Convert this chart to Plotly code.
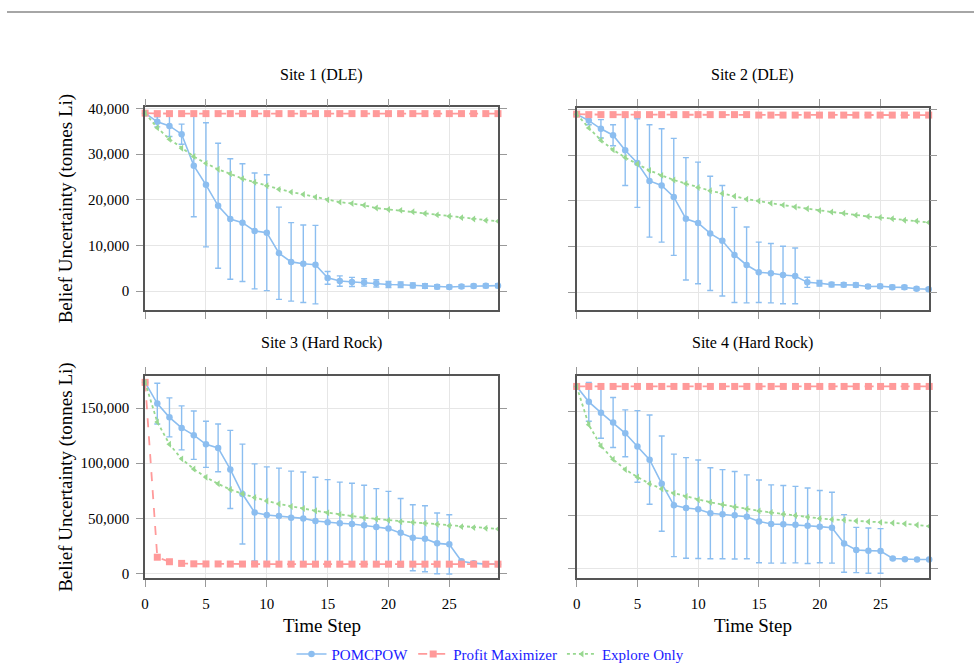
import plotly.graph_objects as go

W, H = 977, 671
t = list(range(30))

# ---------------- data ----------------
site_titles = ["Site 1 (DLE)", "Site 2 (DLE)", "Site 3 (Hard Rock)", "Site 4 (Hard Rock)"]

pomcpow_1 = [39000, 37100, 36200, 34400, 27500, 23300, 18700, 15800, 15000, 13200,
             12800, 8300, 6400, 6000, 5800, 2900, 2200, 2000, 1900, 1700,
             1450, 1400, 1250, 1100, 950, 900, 1000, 1100, 1150, 1200]
pomcpow_1_err = [0, 1100, 2300, 2200, 11200, 13600, 13700, 13200, 12900, 12700,
                 12700, 10100, 8600, 8500, 8600, 1400, 1150, 1000, 800, 800,
                 650, 600, 550, 500, 450, 400, 400, 400, 400, 400]
profit_1 = [39000] + [38900] * 29
explore_1 = [39000, 35800, 33300, 31300, 29500, 28000, 26700, 25700, 24650, 23850,
             23100, 22300, 21700, 21200, 20600, 20000, 19500, 19200, 18800, 18200,
             17900, 17700, 17400, 17000, 16700, 16400, 16100, 15800, 15500, 15300]

pomcpow_2 = [39000, 37600, 35800, 34400, 31100, 28300, 24400, 23400, 20900, 16100,
             15200, 12900, 11300, 8200, 6000, 4400, 4200, 3800, 3600, 2200,
             2000, 1700, 1650, 1600, 1300, 1350, 1150, 1100, 800, 700]
pomcpow_2_err = [0, 900, 2000, 2300, 7700, 9700, 12300, 12400, 12800, 13400,
                 13300, 12500, 12100, 10400, 8300, 6600, 6500, 6300, 6100, 1100,
                 600, 500, 450, 450, 400, 400, 400, 400, 350, 350]
profit_2 = [39000] + [38900] * 14 + [38800] * 15
explore_2 = [39000, 36000, 33300, 31200, 29500, 28100, 26700, 25600, 24600, 23800,
             22950, 22250, 21650, 21050, 20400, 20000, 19500, 19100, 18700, 18300,
             17900, 17600, 17300, 16900, 16600, 16400, 16100, 15800, 15600, 15300]

pomcpow_3 = [173500, 154200, 141700, 132100, 125500, 117200, 113900, 94400, 72000, 55300,
             52900, 52000, 50500, 49900, 47500, 46300, 45500, 44800, 43700, 42100,
             40600, 36800, 32300, 31400, 27200, 26300, 11000, 9200, 8300, 8300]
pomcpow_3_err = [0, 18500, 17700, 20000, 22000, 21000, 21700, 35500, 45400, 44100,
                 43800, 43600, 42300, 42200, 39800, 38800, 37300, 37000, 36300, 34800,
                 33800, 31200, 30000, 30000, 27600, 26900, 1000, 800, 600, 600]
profit_3 = [173500, 14600, 10500, 9000, 8600, 8500, 8500, 8400, 8400, 8400,
            8400, 8300, 8300, 8300, 8300, 8300, 8300, 8300, 8300, 8300,
            8300, 8300, 8300, 8300, 8300, 8300, 8300, 8300, 8300, 8300]
explore_3 = [173500, 137500, 117200, 104000, 94700, 87200, 81300, 76200, 72300, 68800,
             65700, 63000, 60700, 58900, 56800, 55000, 53500, 52000, 50500, 49300,
             48100, 46900, 46300, 45500, 44600, 43300, 42400, 41500, 41000, 40300]

pomcpow_4 = [173500, 158800, 148500, 139100, 128800, 116300, 103700, 80800, 60100, 57600,
             56400, 52600, 51700, 50700, 49200, 44800, 42300, 42000, 41700, 40700,
             39800, 38800, 23800, 17500, 16900, 16600, 9400, 8700, 8500, 8500]
pomcpow_4_err = [0, 18500, 24400, 23800, 22400, 34100, 42600, 45400, 48900, 48000,
                 47000, 43400, 42500, 41700, 40000, 39500, 37300, 37000, 36500, 36000,
                 34500, 33800, 27500, 21600, 21600, 21300, 1000, 800, 600, 600]
profit_4 = [173500] * 30
explore_4 = [173500, 136900, 116800, 104000, 94300, 87100, 80800, 75800, 71700, 68600,
             65500, 63000, 60800, 58600, 56700, 54800, 53300, 51700, 50500, 48900,
             47600, 46700, 46100, 45100, 44500, 43900, 43200, 42600, 41400, 40100]

pomcpow = [pomcpow_1, pomcpow_2, pomcpow_3, pomcpow_4]
pomcpow_err = [pomcpow_1_err, pomcpow_2_err, pomcpow_3_err, pomcpow_4_err]
profit = [profit_1, profit_2, profit_3, profit_4]
explore = [explore_1, explore_2, explore_3, explore_4]

y_ranges = [[-4110, 40280], [-3890, 40370], [-4480, 179300], [-9400, 183500]]
y_dticks = [10000, 10000, 50000, 50000]
x_range = [0, 29]

# ---------------- styling ----------------
FONT = "Liberation Serif, Times New Roman, serif"
BLUE = "#8cbef0"
PINK = "#ff9a9a"
GREEN = "#98d890"

# plot frames in pixels: (x0, x1, ytop, ybottom)
frames = [(141.7, 496.0, 102.7, 308.0),
          (575.0, 928.5, 103.3, 308.3),
          (141.7, 496.0, 375.0, 580.0),
          (575.0, 929.0, 375.0, 580.0)]


def px(x):
    return x / W


def py(y):
    return 1 - y / H


fig = go.Figure()

for i in range(4):
    xa = "x" if i == 0 else f"x{i+1}"
    ya = "y" if i == 0 else f"y{i+1}"
    show = i == 0
    fig.add_trace(go.Scatter(
        x=t, y=pomcpow[i], xaxis=xa, yaxis=ya, name="POMCPOW", legendgroup="p",
        showlegend=show, mode="lines+markers", cliponaxis=False,
        line=dict(color=BLUE, width=1.6),
        marker=dict(color=BLUE, size=6.5, symbol="circle"),
        error_y=dict(type="data", array=pomcpow_err[i], visible=True,
                     color=BLUE, thickness=1.4, width=3),
    ))
    fig.add_trace(go.Scatter(
        x=t, y=profit[i], xaxis=xa, yaxis=ya, name="Profit Maximizer", legendgroup="m",
        showlegend=show, mode="lines+markers", cliponaxis=False,
        line=dict(color=PINK, width=1.8, dash="dash"),
        marker=dict(color=PINK, size=7, symbol="square"),
    ))
    fig.add_trace(go.Scatter(
        x=t, y=explore[i], xaxis=xa, yaxis=ya, name="Explore Only", legendgroup="e",
        showlegend=show, mode="lines+markers", cliponaxis=False,
        line=dict(color=GREEN, width=1.8, dash="dot"),
        marker=dict(color=GREEN, size=6, symbol="triangle-left"),
    ))

layout = {}
for i in range(4):
    x0, x1, yt, yb = frames[i]
    xk = "xaxis" if i == 0 else f"xaxis{i+1}"
    yk = "yaxis" if i == 0 else f"yaxis{i+1}"
    ya = "y" if i == 0 else f"y{i+1}"
    xa = "x" if i == 0 else f"x{i+1}"
    bottom_row = i >= 2
    left_col = i % 2 == 0
    common = dict(showline=True, linecolor="#555555", linewidth=1.5, mirror="ticks",
                  ticks="outside", ticklen=7, tickwidth=1.2, tickcolor="#999999",
                  showgrid=True, gridcolor="#e6e6e6", gridwidth=1, zeroline=False,
                  tickfont=dict(family=FONT, size=15, color="#000000"),
                  ticklabelstandoff=4)
    layout[xk] = dict(common, domain=[px(x0), px(x1)], range=x_range, anchor=ya,
                      tickmode="linear", tick0=0, dtick=5, showticklabels=bottom_row)
    layout[yk] = dict(common, domain=[py(yb), py(yt)], range=y_ranges[i], anchor=xa,
                      tickmode="linear", tick0=0, dtick=y_dticks[i], tickformat=",d",
                      showticklabels=left_col)

annotations = []
title_y = [70, 70, 342, 342]
for i in range(4):
    x0, x1, yt, yb = frames[i]
    annotations.append(dict(text=site_titles[i], x=px((x0 + x1) / 2), y=py(title_y[i]),
                            xref="paper", yref="paper", showarrow=False,
                            xanchor="center", yanchor="middle",
                            font=dict(family=FONT, size=16, color="#000000")))
    if i >= 2:
        annotations.append(dict(text="Time Step", x=px((x0 + x1) / 2), y=py(628),
                                xref="paper", yref="paper", showarrow=False,
                                xanchor="center", yanchor="middle",
                                font=dict(family=FONT, size=19, color="#000000")))
    if i % 2 == 0:
        annotations.append(dict(text="Belief Uncertainty (tonnes Li)", x=px(62),
                                y=py((yt + yb) / 2), xref="paper", yref="paper",
                                showarrow=False, textangle=-90,
                                xanchor="center", yanchor="middle",
                                font=dict(family=FONT, size=19, color="#000000")))

fig.update_layout(
    width=W, height=H,
    margin=dict(l=0, r=0, t=0, b=0),
    paper_bgcolor="white", plot_bgcolor="white",
    separators=".,",
    annotations=annotations,
    shapes=[dict(type="line", xref="paper", yref="paper", x0=px(3), x1=px(974),
                 y0=py(6), y1=py(6), line=dict(color="#888888", width=1.5))],
    legend=dict(orientation="h", x=0.5, xanchor="center", y=py(657), yanchor="middle",
                font=dict(family=FONT, size=15, color="#1a1aff"),
                bgcolor="rgba(0,0,0,0)", itemwidth=30),
    **layout,
)

fig.write_html("out.html")
